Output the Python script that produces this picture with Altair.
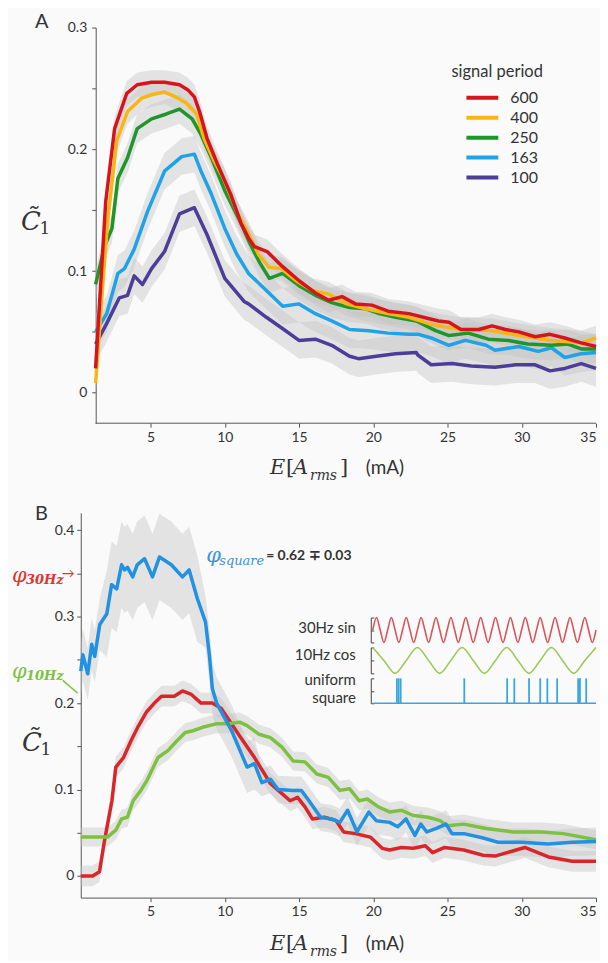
import altair as alt
import pandas as pd

FONT = "Lato"
SERIF = "DejaVu Serif"
TXT = "#333333"
AX = "#555555"

# ---------------- Panel A data (signal period) ----------------
A_periods = ["600", "400", "250", "163", "100"]
A_colors = ["#d7141c", "#f8b614", "#1f962a", "#1fa3e8", "#4b3d98"]

A600_E = [1.3, 1.98, 2.58, 3.4, 4.1, 5.07, 5.94, 6.95, 7.5, 7.95, 8.3, 8.8, 9.5, 10.4, 11.1, 11.6, 12.0,
          12.85, 13.86, 15.0, 16.1, 17.0, 17.9, 18.8, 19.9, 21.0, 22.4, 23.7, 24.4, 25.1, 25.9, 27.1,
          28.0, 28.9, 29.8, 30.9, 31.9, 32.9, 34.0, 35.0]
A600_C = [0.02, 0.157, 0.217, 0.246, 0.253, 0.255, 0.255, 0.253, 0.249, 0.243, 0.231, 0.209, 0.188, 0.163,
          0.139, 0.127, 0.12, 0.116, 0.104, 0.092, 0.082, 0.076, 0.079, 0.073, 0.072, 0.067, 0.065, 0.061,
          0.059, 0.058, 0.052, 0.052, 0.055, 0.052, 0.05, 0.046, 0.048, 0.045, 0.041, 0.038]

A400_E = [1.3, 1.7, 2.1, 2.38, 2.72, 3.45, 4.4, 5.13, 5.94, 6.7, 7.4, 8.1, 8.6, 9.3, 10.0, 10.8, 11.5,
          12.3, 12.99, 13.8, 14.8, 15.9, 17.0, 18.2, 19.5, 21.0, 22.4, 23.7, 24.4, 25.9, 28.0, 29.8,
          32.0, 34.0, 35.0]
A400_C = [0.008, 0.075, 0.14, 0.17, 0.207, 0.231, 0.242, 0.245, 0.247, 0.243, 0.238, 0.229, 0.209, 0.19,
          0.174, 0.149, 0.133, 0.113, 0.103, 0.102, 0.092, 0.084, 0.081, 0.073, 0.069, 0.065, 0.062,
          0.057, 0.055, 0.052, 0.051, 0.047, 0.043, 0.041, 0.045]

A250_E = [1.3, 1.9, 2.4, 2.8, 3.45, 4.1, 5.07, 6.07, 6.95, 7.8, 8.4, 9.1, 10.0, 11.1, 11.6, 12.3, 13.0,
          13.9, 15.0, 16.1, 17.2, 18.4, 19.5, 20.4, 21.5, 22.9, 23.7, 24.2, 25.1, 26.4, 27.75, 29.1,
          30.4, 32.0, 33.1, 34.0, 35.0]
A250_C = [0.089, 0.12, 0.135, 0.176, 0.193, 0.217, 0.225, 0.229, 0.233, 0.225, 0.212, 0.193, 0.166, 0.139,
          0.125, 0.108, 0.094, 0.098, 0.088, 0.08, 0.074, 0.07, 0.069, 0.065, 0.062, 0.059, 0.054, 0.051,
          0.047, 0.049, 0.044, 0.043, 0.04, 0.039, 0.04, 0.036, 0.036]

A163_E = [1.3, 2.05, 2.8, 3.25, 3.9, 4.8, 5.94, 7.1, 7.95, 8.4, 9.1, 10.0, 10.8, 11.6, 12.8, 13.9, 15.0,
          16.1, 17.2, 18.4, 19.7, 21.0, 22.4, 23.05, 23.9, 25.1, 26.2, 27.6, 28.2, 29.8, 31.1, 32.0,
          32.9, 34.0, 35.0]
A163_C = [0.05, 0.065, 0.098, 0.102, 0.118, 0.149, 0.182, 0.194, 0.196, 0.182, 0.163, 0.135, 0.114, 0.098,
          0.084, 0.071, 0.073, 0.065, 0.059, 0.052, 0.051, 0.049, 0.048, 0.048, 0.045, 0.039, 0.043,
          0.039, 0.035, 0.038, 0.034, 0.037, 0.029, 0.032, 0.033]

A100_E = [1.3, 2.05, 2.9, 3.45, 3.9, 4.46, 5.07, 5.94, 6.95, 7.95, 8.8, 10.0, 11.3, 11.6, 12.8, 13.86,
          15.0, 16.1, 17.2, 18.4, 19.0, 20.2, 21.5, 22.9, 23.0, 23.9, 25.3, 26.6, 28.2, 29.6, 30.9, 31.9,
          32.9, 34.0, 35.0]
A100_C = [0.04, 0.057, 0.078, 0.08, 0.096, 0.089, 0.102, 0.116, 0.147, 0.152, 0.13, 0.094, 0.075, 0.073,
          0.062, 0.053, 0.043, 0.044, 0.039, 0.030, 0.028, 0.030, 0.032, 0.033, 0.031, 0.023, 0.024,
          0.022, 0.021, 0.023, 0.023, 0.018, 0.020, 0.024, 0.020]

A_band = [0.010, 0.010, 0.012, 0.015, 0.015]   # half-width of grey bands, per period
A_xrange = [1.3, 35.0]

# ---------------- Panel B data ----------------
B_names = ["30Hz", "10Hz", "square"]
B_colors = ["#d8262a", "#7ec142", "#2291e1"]

B30_E = [0.3, 1.1, 1.56, 1.9, 2.4, 2.66, 3.18, 3.7, 4.2, 4.74, 5.26, 5.74, 6.6, 7.15, 7.75, 8.4, 9.16,
         9.75, 11.0, 12.0, 13.07, 13.6, 14.4, 14.9, 15.4, 15.9, 16.7, 17.5, 18.0, 18.8, 19.8, 20.6,
         21.1, 21.9, 22.7, 23.5, 24.0, 24.8, 26.1, 27.4, 28.2, 30.2, 31.8, 33.4, 35.0]
B30_C = [0.0, 0.0, 0.005, 0.041, 0.087, 0.126, 0.137, 0.157, 0.174, 0.19, 0.2, 0.208, 0.208, 0.214, 0.21,
         0.2, 0.2, 0.194, 0.162, 0.137, 0.107, 0.099, 0.087, 0.091, 0.08, 0.066, 0.068, 0.064, 0.051,
         0.049, 0.045, 0.032, 0.03, 0.033, 0.032, 0.035, 0.027, 0.033, 0.03, 0.024, 0.023, 0.033, 0.022,
         0.017, 0.017]

B10_E = [0.3, 2.1, 2.66, 3.05, 3.44, 3.83, 4.35, 4.74, 5.5, 6.17, 6.7, 7.34, 7.86, 8.5, 9.42, 10.2, 11.0,
         11.5, 12.3, 13.07, 13.85, 14.6, 15.4, 16.2, 16.97, 17.75, 18.4, 19.05, 19.6, 20.35, 21.1, 21.9,
         22.7, 23.7, 24.5, 25.0, 26.1, 27.6, 29.4, 31.3, 32.8, 35.0]
B10_C = [0.045, 0.045, 0.053, 0.066, 0.068, 0.087, 0.099, 0.11, 0.137, 0.145, 0.155, 0.166, 0.168, 0.172,
         0.176, 0.176, 0.178, 0.174, 0.164, 0.16, 0.149, 0.133, 0.132, 0.118, 0.114, 0.099, 0.101, 0.087,
         0.089, 0.08, 0.074, 0.076, 0.07, 0.068, 0.064, 0.058, 0.06, 0.055, 0.051, 0.051, 0.049, 0.042]

BSQ_E = [0.3, 0.44, 0.77, 1.04, 1.24, 1.58, 2.05, 2.38, 2.72, 3.05, 3.25, 3.45, 3.8, 4.1, 4.6, 5.13, 5.6,
         6.4, 7.15, 7.6, 8.15, 8.7, 8.96, 9.16, 9.45, 10.46, 11.5, 12.0, 12.5, 13.07, 13.6, 14.6, 15.15,
         15.67, 16.45, 17.2, 17.75, 18.27, 18.9, 19.7, 20.2, 21.1, 21.65, 22.2, 22.8, 23.2, 23.6, 24.25,
         24.9, 25.3, 26.1, 27.4, 28.4, 30.0, 31.8, 33.4, 35.0]
BSQ_C = [0.237, 0.256, 0.234, 0.268, 0.254, 0.291, 0.303, 0.337, 0.332, 0.36, 0.354, 0.357, 0.346, 0.36,
         0.367, 0.346, 0.369, 0.36, 0.346, 0.354, 0.321, 0.294, 0.256, 0.217, 0.2, 0.168, 0.126, 0.13,
         0.108, 0.112, 0.1, 0.099, 0.099, 0.087, 0.068, 0.066, 0.062, 0.076, 0.051, 0.074, 0.064, 0.062,
         0.057, 0.066, 0.047, 0.06, 0.051, 0.055, 0.06, 0.049, 0.049, 0.044, 0.039, 0.039, 0.037, 0.039,
         0.04]

# grey band half-widths read per E-range: (upper E of range, half-width)
B30_band = [(35.0, 0.012)]
B10_band = [(35.0, 0.011)]
BSQ_band = [(2.0, 0.03), (8.6, 0.05), (12.0, 0.03), (35.0, 0.016)]

# inset signals (t in seconds over 0.5 s window)
SIN_T = [i / 120 for i in range(61)]
SIN_V = [0, 1, 0, -1] * 15 + [0]
COS_T = [i / 40 for i in range(21)]
COS_V = [1, 0, -1, 0] * 5 + [1]
PULSE_T = [0.054, 0.058, 0.0625, 0.205, 0.301, 0.317, 0.350, 0.375, 0.391, 0.413, 0.46, 0.464, 0.478]
INSET_T = [0.0, 0.5]


def band_lookup(E, table):
    for upto, w in table:
        if E <= upto:
            return w
    return table[-1][1]


# ---------------- frames ----------------
rows = []
for p, E, C, w in zip(A_periods, [A600_E, A400_E, A250_E, A163_E, A100_E],
                      [A600_C, A400_C, A250_C, A163_C, A100_C], A_band):
    for e, c in zip(E, C):
        rows.append({"period": p, "E": e, "C": c, "lo": c - w, "hi": c + w})
dfA = pd.DataFrame(rows)

rows = []
for n, E, C, tab in zip(B_names, [B30_E, B10_E, BSQ_E], [B30_C, B10_C, BSQ_C],
                        [B30_band, B10_band, BSQ_band]):
    for e, c in zip(E, C):
        w = band_lookup(e, tab)
        rows.append({"sig": n, "E": e, "C": c, "lo": c - w, "hi": c + w})
dfB = pd.DataFrame(rows)


def label(text, x, y, size, color=TXT, font=FONT, style="normal", weight="normal",
          align="left", baseline="middle"):
    return alt.Chart(pd.DataFrame({"t": [text]})).mark_text(
        text=text, font=font, fontSize=size, color=color, fontStyle=style,
        fontWeight=weight, align=align, baseline=baseline
    ).encode(x=alt.value(x), y=alt.value(y))


def xtitle(y):
    return [
        label("E", 190, y, 21, font=SERIF, style="italic"),
        label("[", 206, y, 21, font=SERIF),
        label("A", 213, y, 21, font=SERIF, style="italic"),
        label("rms", 230, y + 8, 14, font=SERIF, style="italic"),
        label("]", 260, y, 21, font=SERIF),
        label("(mA)", 286, y, 19),
    ]


def ytitle(x, y):
    return [
        label("C\u0303", x, y, 26, font=SERIF, style="italic", align="center"),
        label("1", x + 14, y + 7, 17, font=SERIF, align="center"),
    ]


axis_common = dict(labelFont=FONT, labelFontSize=14, labelColor=TXT, domainColor=AX,
                   tickColor=AX, tickSize=4, grid=False, title=None)

# ---------------- Panel A ----------------
WA, HA = 517, 397
xA = alt.Scale(domain=[0.3, 35], nice=False, zero=False)
yA = alt.Scale(domain=[-0.025, 0.3], nice=False, zero=False)
xaxisA = alt.Axis(values=[5, 10, 15, 20, 25, 30, 35], domain=False, labelPadding=3, **axis_common)
yaxisA = alt.Axis(values=[0, 0.05, 0.1, 0.15, 0.2, 0.25, 0.3], format=".2~f",
                  labelExpr="indexof(['0','0.1','0.2','0.3'], datum.label) >= 0 ? datum.label : ''",
                  offset=-15, labelPadding=5, **axis_common)

legendA = alt.Legend(title="signal period", orient="none", legendX=372, legendY=37,
                     titleFont=FONT, titleFontSize=16.5, titleFontWeight="normal", titleColor=TXT,
                     titlePadding=6, labelFont=FONT, labelFontSize=16, labelColor=TXT,
                     symbolType="M-1,0H2.55", symbolSize=324, symbolStrokeWidth=4,
                     symbolOffset=13, labelOffset=24, rowPadding=1, padding=0)

bandA = alt.Chart(dfA).mark_area(color="#c4c4c4", opacity=0.42).encode(
    x=alt.X("E:Q", scale=xA, axis=xaxisA),
    y=alt.Y("lo:Q", scale=yA, axis=yaxisA),
    y2="hi:Q",
    detail="period:N",
)
linesA = [
    alt.Chart(dfA).transform_filter(alt.datum.period == p).mark_line(strokeWidth=3.5, strokeJoin="round").encode(
        x=alt.X("E:Q", scale=xA, axis=xaxisA),
        y=alt.Y("C:Q", scale=yA, axis=yaxisA),
        color=alt.Color("period:N", scale=alt.Scale(domain=A_periods, range=A_colors), legend=legendA),
    )
    for p in reversed(A_periods)
]
axislineA = alt.Chart(pd.DataFrame({"E0": [A_xrange[0]], "E1": [A_xrange[1]], "C0": [-0.025]})).mark_rule(
    color=AX, strokeWidth=1).encode(
    x=alt.X("E0:Q", scale=xA, axis=xaxisA), x2="E1:Q", y=alt.Y("C0:Q", scale=yA, axis=yaxisA))

panelA = alt.layer(
    bandA, *linesA, axislineA,
    label("A", -46, -6, 20),
    *ytitle(-50, 195),
    *xtitle(442),
).properties(width=WA, height=HA)

# ---------------- Panel B ----------------
WB, HB = 517, 386
xB = alt.Scale(domain=[0.3, 35], nice=False, zero=False)
yB = alt.Scale(domain=[-0.025, 0.42], nice=False, zero=False)
xaxisB = alt.Axis(values=[5, 10, 15, 20, 25, 30, 35], labelPadding=3, **axis_common)
yaxisB = alt.Axis(values=[0, 0.05, 0.1, 0.15, 0.2, 0.25, 0.3, 0.35, 0.4], format=".2~f",
                  labelExpr="indexof(['0','0.1','0.2','0.3','0.4'], datum.label) >= 0 ? datum.label : ''",
                  labelPadding=3, **axis_common)

bandB = alt.Chart(dfB).mark_area(color="#c4c4c4", opacity=0.42).encode(
    x=alt.X("E:Q", scale=xB, axis=xaxisB),
    y=alt.Y("lo:Q", scale=yB, axis=yaxisB),
    y2="hi:Q",
    detail="sig:N",
)
linesB = [
    alt.Chart(dfB).transform_filter(alt.datum.sig == n).mark_line(
        strokeWidth=3.5, strokeJoin="round", color=c).encode(
        x=alt.X("E:Q", scale=xB, axis=xaxisB),
        y=alt.Y("C:Q", scale=yB, axis=yaxisB),
    )
    for n, c in zip(B_names, B_colors)
]

RED, GREEN, BLUE = "#d9362f", "#7cc242", "#3d93d8"
annB = [
    label("B", -46, 1, 20),
    label("\u03c6", -69, 63, 21, color=RED, font=SERIF, style="italic"),
    label("30Hz", -55, 67, 13, color=RED, font=SERIF, style="italic", weight="bold"),
    label("\u2192", -19, 61, 13, color=RED),
    label("\u03c6", -69, 160, 21, color=GREEN, font=SERIF, style="italic"),
    label("10Hz", -55, 164, 13, color=GREEN, font=SERIF, style="italic", weight="bold"),
    alt.Chart(pd.DataFrame({"a": [0]})).mark_rule(color=GREEN, strokeWidth=1.5).encode(
        x=alt.value(-18), x2=alt.value(-3), y=alt.value(168), y2=alt.value(181)),
    label("\u03c6", 126, 43, 21, color=BLUE, font=SERIF, style="italic"),
    label("square", 139, 48, 13, color=BLUE, font=SERIF, style="italic"),
    label("= 0.62 \u2213 0.03", 186, 43, 14, weight="bold"),
    label("30Hz sin", 276, 115, 15, align="right"),
    label("10Hz cos", 276, 143, 15, align="right"),
    label("uniform", 276, 168, 15, align="right"),
    label("square", 276, 186, 15, align="right"),
]

mainB = alt.layer(bandB, *linesB, *annB, *ytitle(-49, 231), *xtitle(433))

# inset signals with their own scales
tx = alt.Scale(domain=[0, 0.5], range=[293, 517], nice=False, zero=False)


def bracket_axis(values):
    return alt.Axis(orient="right", offset=-226, labels=False, tickSize=3, values=values,
                    domainColor="#444", tickColor="#444", grid=False, title=None)


sinL = alt.Chart(pd.DataFrame({"t": SIN_T, "v": SIN_V})).mark_line(
    color="#d9545a", strokeWidth=1.6, interpolate="monotone").encode(
    x=alt.X("t:Q", scale=tx, axis=None),
    y=alt.Y("v:Q", scale=alt.Scale(domain=[-1, 1], range=[130, 105], nice=False),
            axis=bracket_axis([-1, 0, 1])),
)
cosL = alt.Chart(pd.DataFrame({"t": COS_T, "v": COS_V})).mark_line(
    color="#9cc85a", strokeWidth=1.6, interpolate="monotone").encode(
    x=alt.X("t:Q", scale=tx, axis=None),
    y=alt.Y("v:Q", scale=alt.Scale(domain=[-1, 1], range=[161, 135], nice=False),
            axis=bracket_axis([-1, 0, 1])),
)
sqy = alt.Scale(domain=[0, 1], range=[191, 166], nice=False)
sqAxis = bracket_axis([0, 0.5, 1])
sqBase = alt.Chart(pd.DataFrame({"t": INSET_T, "v": [0, 0]})).mark_line(
    color="#39a6e0", strokeWidth=1.6).encode(
    x=alt.X("t:Q", scale=tx, axis=None), y=alt.Y("v:Q", scale=sqy, axis=sqAxis))
sqPulse = alt.Chart(pd.DataFrame({"t": PULSE_T, "v0": [0] * len(PULSE_T), "v1": [1] * len(PULSE_T)})).mark_rule(
    color="#39a6e0", strokeWidth=1.8).encode(
    x=alt.X("t:Q", scale=tx, axis=None), y=alt.Y("v0:Q", scale=sqy, axis=sqAxis), y2="v1:Q")
sqL = alt.layer(sqBase, sqPulse)

panelB = alt.layer(mainB, sinL, cosL, sqL).resolve_scale(
    x="independent", y="independent").properties(width=WB, height=HB)

chart = alt.vconcat(panelA, panelB, spacing=90, bounds="flush").resolve_scale(
    x="independent", y="independent").properties(
    padding={"left": 4, "top": 2, "right": 0, "bottom": 0}, background="#fafafa"
).configure_view(stroke=None)

chart.save("out.html", embed_options={"renderer": "svg", "actions": False})
